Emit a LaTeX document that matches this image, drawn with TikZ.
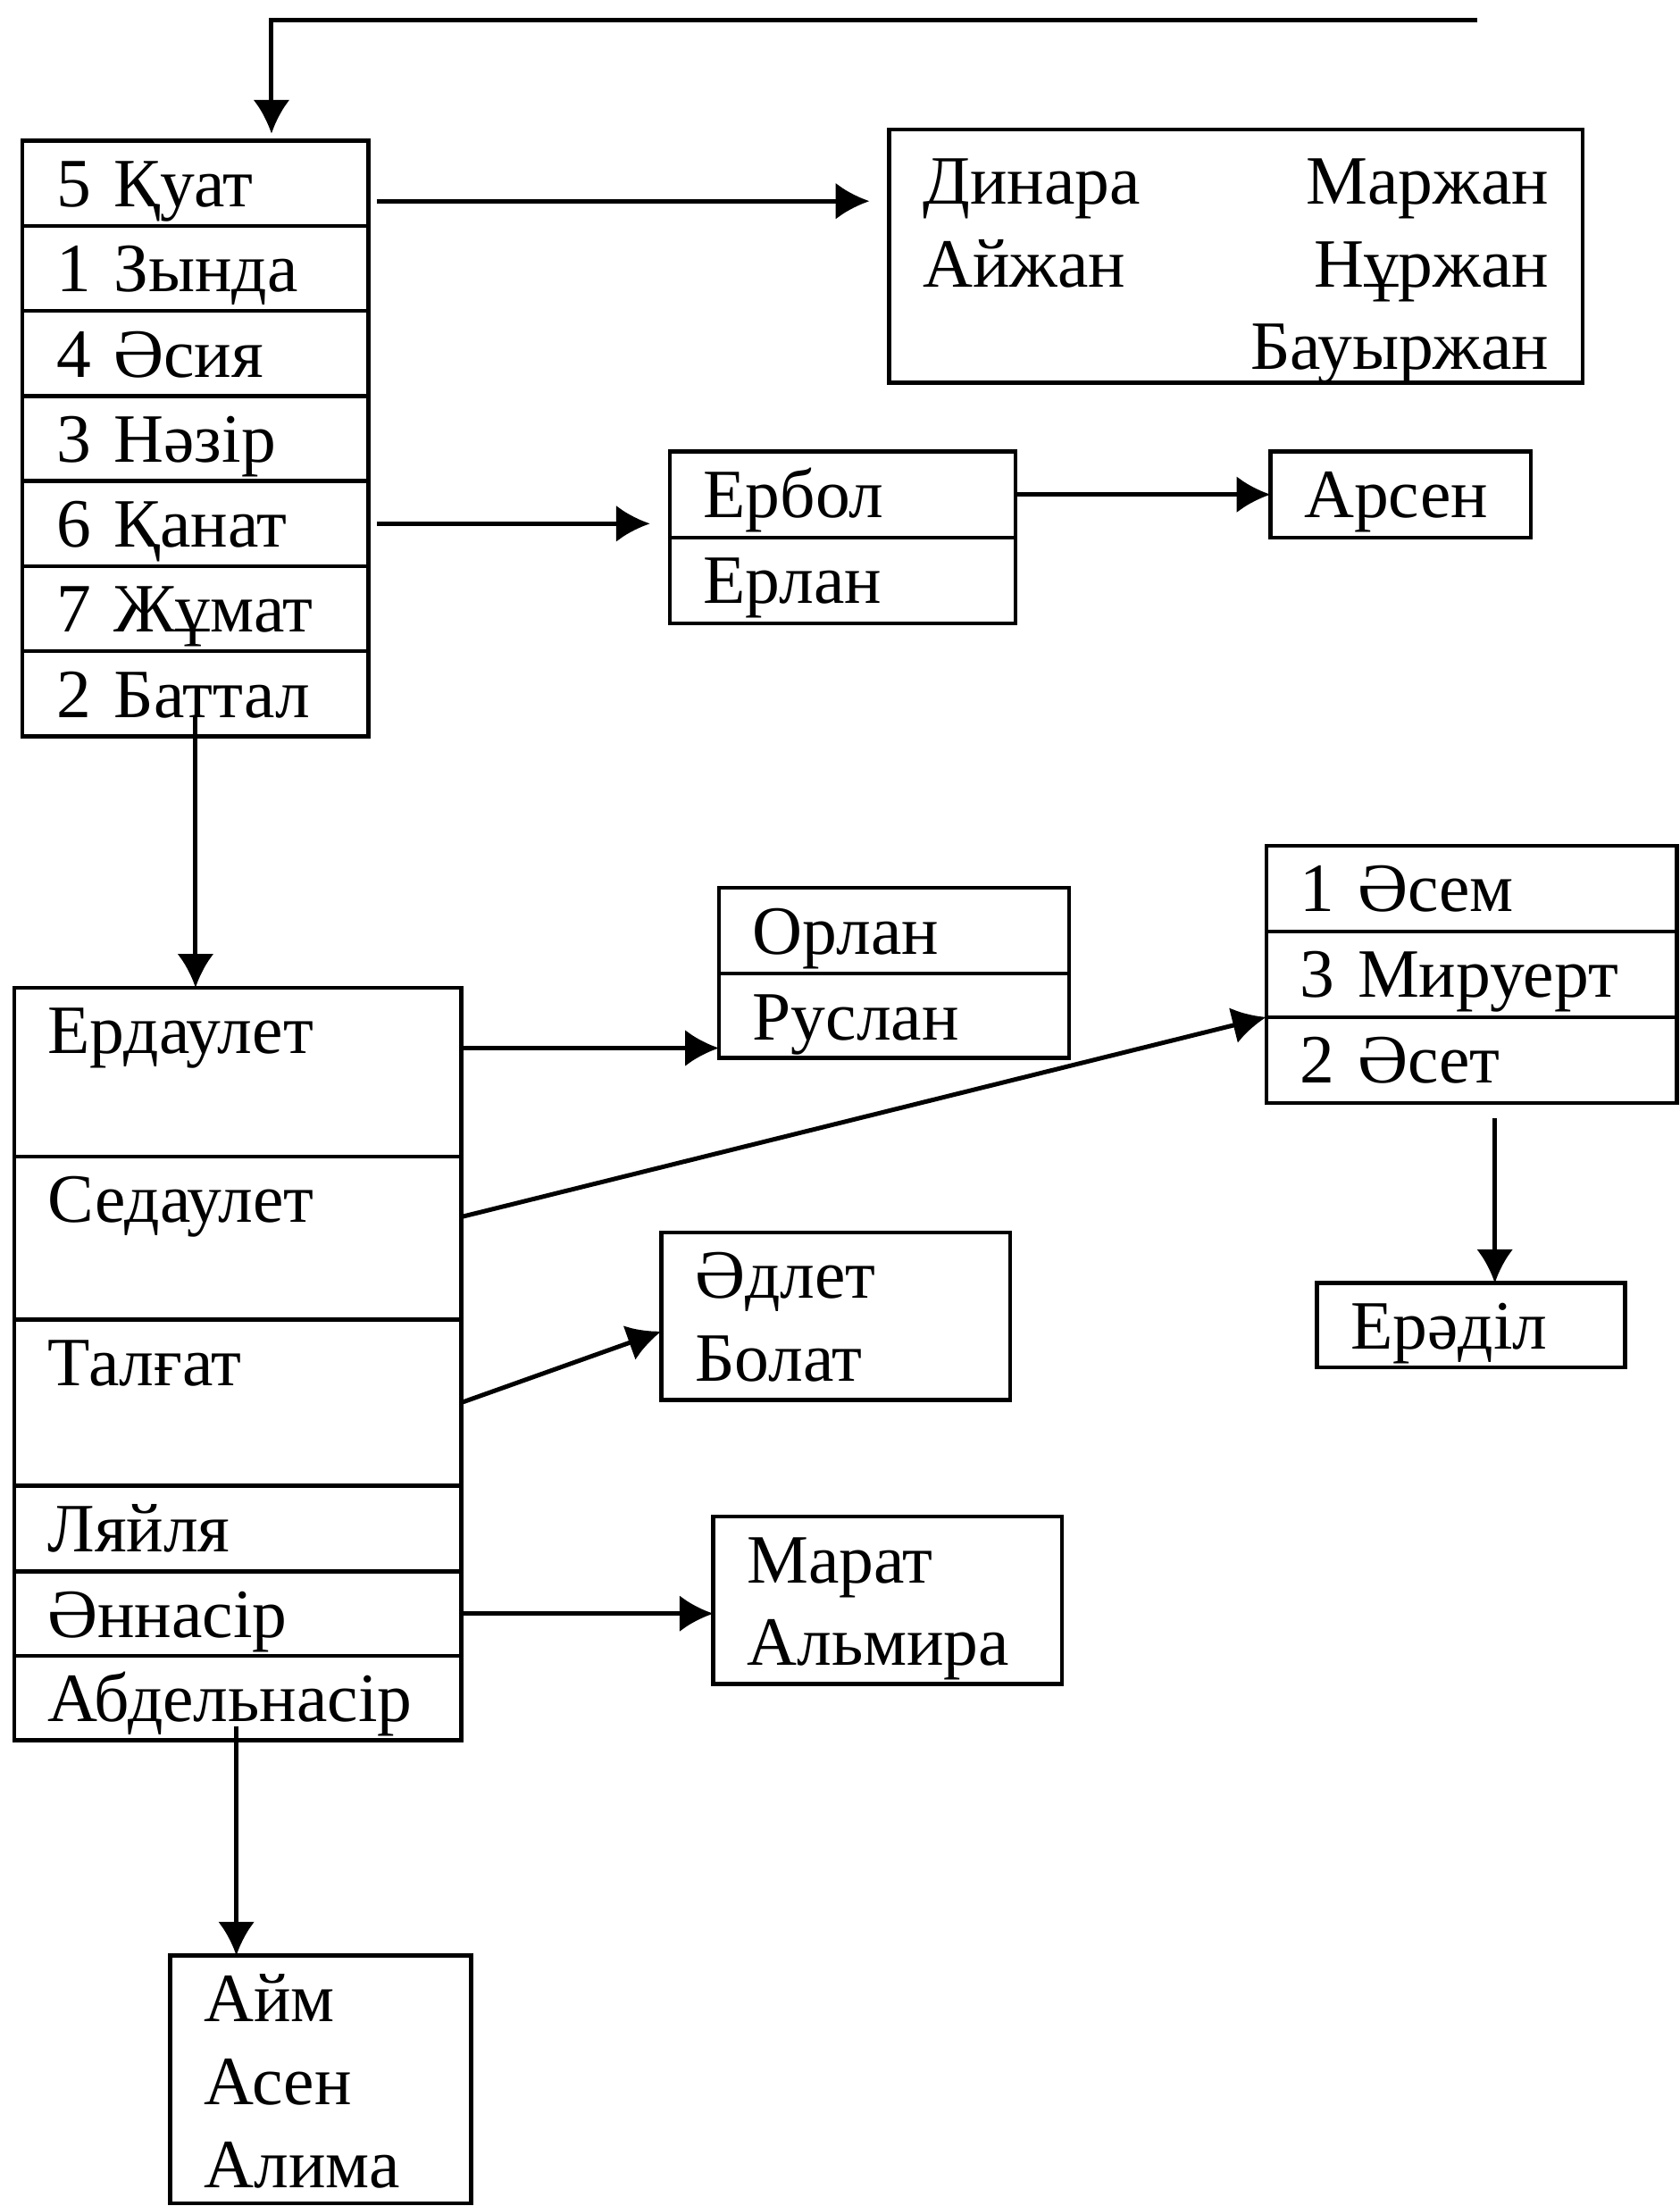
\documentclass[tikz,border=0pt]{standalone}
\usepackage{fontspec}
\setmainfont{Liberation Serif}
\usepackage{tikz}
\usetikzlibrary{arrows.meta, positioning}
\tikzstyle{cell} = [draw, line width=1.6pt, outer sep=0pt, anchor=north west, inner xsep=0.48cm, inner ysep=0pt, text height=0.94cm, align=left]
\tikzstyle{arrow} = [line width=1.8pt, -{Latex[length=0.48cm, width=0.52cm]}]

\begin{document}
\begin{tikzpicture}[x=0.02cm, y=-0.02cm, font=\fontsize{28}{33.5}\selectfont]
    \useasboundingbox (0,0) rectangle (1194,1568);
    \node (kuat) [cell, text width=3.96cm, text depth=0.27cm] at (16,100) {5 Қуат};
    \node (zynda) [cell, text width=3.96cm, text depth=0.27cm, below=0pt of kuat] {1 Зында};
    \node (asiya) [cell, text width=3.96cm, text depth=0.27cm, below=0pt of zynda] {4 Әсия};
    \node (nazir) [cell, text width=3.96cm, text depth=0.27cm, below=0pt of asiya] {3 Нәзір};
    \node (kanat) [cell, text width=3.96cm, text depth=0.27cm, below=0pt of nazir] {6 Қанат};
    \node (zhumat) [cell, text width=3.96cm, text depth=0.27cm, below=0pt of kanat] {7 Жұмат};
    \node (battal) [cell, text width=3.96cm, text depth=0.27cm, below=0pt of zhumat] {2 Баттал};

    \node (dinara) [cell, text width=8.9cm, text height=1.06cm, text depth=2.54cm] at (632,92)
        {Динара\hfill Маржан\\ Айжан\hfill Нұржан\\ \hspace*{\fill}Бауыржан};

    \node (erbol) [cell, text width=3.96cm, text depth=0.28cm] at (476,321) {Ербол};
    \node (erlan) [cell, text width=3.96cm, text depth=0.28cm, below=0pt of erbol] {Ерлан};
    \node (arsen) [cell, text width=2.74cm, text depth=0.28cm] at (903,321) {Арсен};

    \node (erdaulet) [cell, text width=5.4cm, text depth=1.46cm] at (10,702) {Ердаулет};
    \node (sedaulet) [cell, text width=5.4cm, text depth=1.38cm, below=0pt of erdaulet] {Седаулет};
    \node (talgat) [cell, text width=5.4cm, text depth=1.42cm, below=0pt of sedaulet] {Талғат};
    \node (lyailya) [cell, text width=5.4cm, text depth=0.28cm, below=0pt of talgat] {Ляйля};
    \node (ennasir) [cell, text width=5.4cm, text depth=0.26cm, below=0pt of lyailya] {Әннасір};
    \node (abdelnasir) [cell, text width=5.4cm, text depth=0.26cm, below=0pt of ennasir] {Абдельнасір};

    \node (orlan) [cell, text width=4.02cm, text depth=0.28cm] at (511,631) {Орлан};
    \node (ruslan) [cell, text width=4.02cm, text depth=0.26cm, below=0pt of orlan] {Руслан};

    \node (asem) [cell, text width=4.88cm, text depth=0.28cm] at (900,601) {1 Әсем};
    \node (miruert) [cell, text width=4.88cm, text depth=0.28cm, below=0pt of asem] {3 Мируерт};
    \node (aset) [cell, text width=4.88cm, text depth=0.28cm, below=0pt of miruert] {2 Әсет};
    \node (eredil) [cell, text width=3.42cm, text depth=0.26cm] at (936,912) {Ерәділ};

    \node (adlet) [cell, text width=4.0cm, text depth=1.44cm] at (470,876) {Әдлет\\Болат};
    \node (marat) [cell, text width=4.0cm, text depth=1.44cm] at (507,1078) {Марат\\Альмира};
    \node (aim) [cell, text width=3.32cm, text depth=2.58cm] at (121,1390) {Айм\\Асен\\Алима};

    \coordinate (loopend) at (1050,14);
    \draw[arrow, shorten >=0.1cm] (loopend) -| ([xshift=1.08cm]kuat.north);
    \draw[arrow, shorten <=0.12cm, shorten >=0.28cm] (kuat.mid east) -- (kuat.mid east -| dinara.west);
    \draw[arrow, shorten <=0.12cm, shorten >=0.28cm] (kanat.east) -- (kanat.east -| erbol.west);
    \draw[arrow] (erbol.east) -- (arsen.west);
    \draw[arrow, shorten <=-0.3cm] (battal.south) -- (battal.south |- erdaulet.north);
    \draw[arrow] (erdaulet.mid east) -- (erdaulet.mid east -| ruslan.west);
    \draw[arrow] (sedaulet.mid east) -- (miruert.south west);
    \draw[arrow] (talgat.east) -- (adlet.185);
    \draw[arrow] (ennasir.east) -- (ennasir.east -| marat.west);
    \draw[arrow, shorten <=0.22cm] ([xshift=0.34cm]eredil.north |- aset.south) -- ([xshift=0.34cm]eredil.north);
    \draw[arrow, shorten <=-0.2cm] ([xshift=0.94cm]aim.north west |- abdelnasir.south) -- ([xshift=0.94cm]aim.north west);
\end{tikzpicture}
\end{document}
